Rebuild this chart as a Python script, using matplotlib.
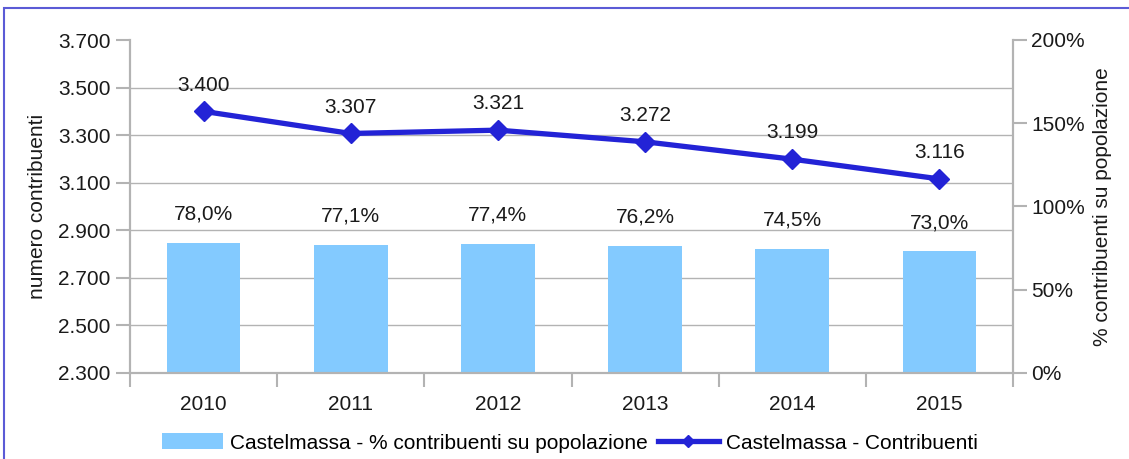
import matplotlib
matplotlib.use("Agg")
import matplotlib.pyplot as plt
from matplotlib.lines import Line2D
from matplotlib.patches import Patch, Rectangle
from matplotlib.ticker import FuncFormatter

plt.rcParams["font.family"] = ["Liberation Sans", "DejaVu Sans"]

years = ["2010", "2011", "2012", "2013", "2014", "2015"]
contribuenti = [3400, 3307, 3321, 3272, 3199, 3116]
perc_popolazione = [78.0, 77.1, 77.4, 76.2, 74.5, 73.0]

left_ticks = [2300, 2500, 2700, 2900, 3100, 3300, 3500, 3700]
right_ticks = [0, 50, 100, 150, 200]

BAR_COLOR = "#83caff"
LINE_COLOR = "#2323d6"
GRID_COLOR = "#b3b3b3"
TEXT_COLOR = "#1a1a1a"
FS = 15


def thousands(v, _pos=None):
    return f"{v:,.0f}".replace(",", ".")


fig = plt.figure(figsize=(11.29, 4.59), dpi=100)
fig.patches.append(Rectangle((4 / 1129, -0.1), 1.2, 1.1 - 8 / 459,
                             transform=fig.transFigure, fill=False,
                             edgecolor="#5b5bd6", linewidth=1.5))

ax1 = fig.add_axes([130 / 1129, 1 - 373 / 459, 883 / 1129, 333 / 459])
ax2 = ax1.twinx()
ax1.set_zorder(2)
ax1.patch.set_visible(False)
ax2.set_zorder(1)

x = list(range(len(years)))

# bars on the right (percentage) axis
ax2.bar(x, perc_popolazione, width=0.5, color=BAR_COLOR, zorder=2)
ax2.set_ylim(0, 200)
ax2.set_yticks(right_ticks)
ax2.yaxis.set_major_formatter(FuncFormatter(lambda v, p: f"{v:.0f}%"))
for xi, v in zip(x, perc_popolazione):
    ax2.annotate(f"{v:.1f}%".replace(".", ","), (xi, v), xytext=(0, 14),
                 textcoords="offset points", ha="center", va="bottom",
                 fontsize=FS, color=TEXT_COLOR)

# grid lines follow the left axis ticks, drawn behind the bars
grid_pct = [(t - left_ticks[0]) / (left_ticks[-1] - left_ticks[0]) * 200 for t in left_ticks]
ax2.set_yticks(grid_pct, minor=True)
ax2.grid(which="minor", axis="y", color=GRID_COLOR, linewidth=1, zorder=0)
ax2.tick_params(axis="y", which="minor", length=0, right=False)
ax2.set_axisbelow(True)

# line on the left axis
ax1.plot(x, contribuenti, color=LINE_COLOR, linewidth=3.8, marker="D",
         markersize=10, zorder=3)
ax1.set_ylim(left_ticks[0], left_ticks[-1])
ax1.set_yticks(left_ticks)
ax1.yaxis.set_major_formatter(FuncFormatter(thousands))
for xi, v in zip(x, contribuenti):
    ax1.annotate(thousands(v), (xi, v), xytext=(0, 12),
                 textcoords="offset points", ha="center", va="bottom",
                 fontsize=FS, color=TEXT_COLOR)

ax1.set_xlim(-0.5, len(years) - 0.5)
ax1.set_xticks(x)
ax1.set_xticklabels(years)
ax1.set_xticks([i - 0.5 for i in range(len(years) + 1)], minor=True)
ax1.tick_params(axis="x", which="major", length=0, pad=16, labelsize=FS,
                labelcolor=TEXT_COLOR)
ax1.tick_params(axis="x", which="minor", length=10, color=GRID_COLOR, width=1.5)
ax1.tick_params(axis="y", length=10, color=GRID_COLOR, width=1.5, labelsize=FS,
                labelcolor=TEXT_COLOR, pad=4)
ax2.tick_params(axis="y", which="major", length=10, color=GRID_COLOR, width=1.5,
                labelsize=FS, labelcolor=TEXT_COLOR, pad=3)

for ax in (ax1, ax2):
    for side in ("left", "right", "bottom"):
        ax.spines[side].set_color(GRID_COLOR)
        ax.spines[side].set_linewidth(1.5)
    ax.spines["top"].set_visible(False)

ax1.set_ylabel("numero contribuenti", fontsize=FS, color=TEXT_COLOR, labelpad=8)
ax2.set_ylabel("% contribuenti su popolazione", fontsize=FS, color=TEXT_COLOR,
               labelpad=6)

handles = [Patch(facecolor=BAR_COLOR, edgecolor="none"),
           Line2D([], [], color=LINE_COLOR, linewidth=3.8, marker="D", markersize=6)]
labels = ["Castelmassa - % contribuenti su popolazione", "Castelmassa - Contribuenti"]
fig.legend(handles, labels, loc="center", bbox_to_anchor=(570 / 1129, 1 - 443 / 459),
           ncol=2, frameon=False, fontsize=FS, handlelength=2.9, handleheight=0.8,
           columnspacing=0.5, handletextpad=0.35)

fig.savefig("out.png", dpi=100)
